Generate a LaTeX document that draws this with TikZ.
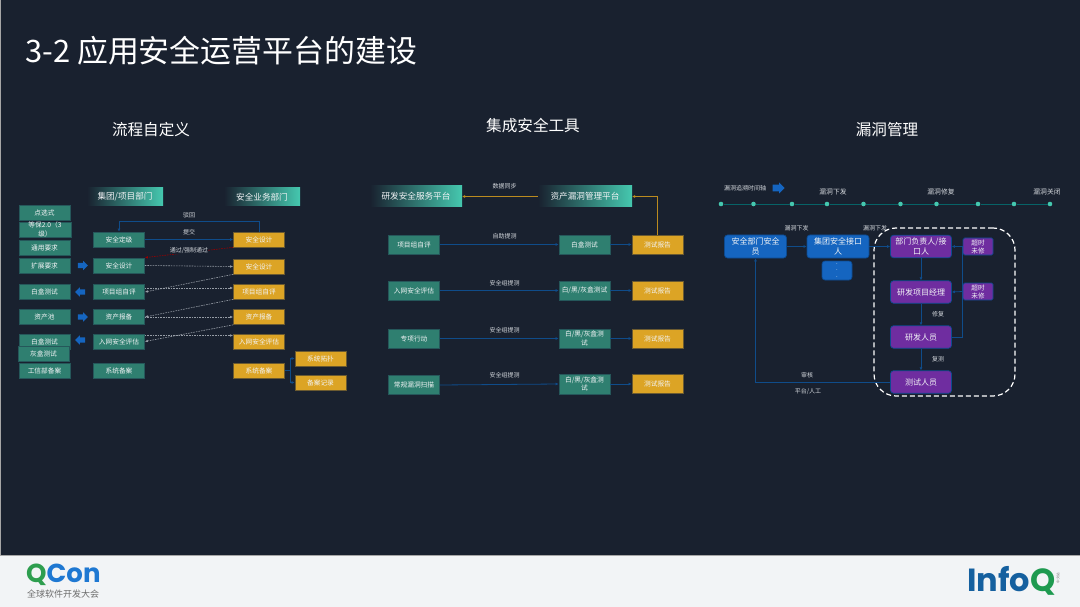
\documentclass[tikz,border=0pt]{standalone}
\usepackage{fontspec}
\setmainfont{Noto Sans CJK SC}
\newfontfamily\logofont{Poppins}
\usetikzlibrary{arrows.meta,shapes.arrows,calc}
\definecolor{bgc}{HTML}{19212F}
\definecolor{footc}{HTML}{F2F4F6}
\definecolor{greenc}{HTML}{2F7F70}
\definecolor{greenb}{HTML}{25575A}
\definecolor{goldc}{HTML}{DCA425}
\definecolor{goldb}{HTML}{6B5A30}
\definecolor{bluec}{HTML}{1565C0}
\definecolor{blueb}{HTML}{0D4A8F}
\definecolor{purc}{HTML}{6F2DA0}
\definecolor{lnblue}{HTML}{0F4C8A}
\definecolor{tealc}{HTML}{45C8AF}
\definecolor{txtc}{HTML}{F2F4F6}
\definecolor{lblc}{HTML}{D4D8DD}
\definecolor{dotc}{HTML}{969DA6}
\tikzset{
 basebox/.style={draw,line width=.7pt,inner sep=0pt,text=txtc,align=center,font=\fontsize{6.7}{8.6}\selectfont},
 gbox/.style={basebox,fill=greenc,draw=greenb,minimum width=51pt,minimum height=15pt},
 gtall/.style={gbox,minimum height=19pt},
 ybox/.style={basebox,fill=goldc,draw=goldb,minimum width=51pt,minimum height=15pt},
 ytall/.style={ybox,minimum height=19pt},
 hdr/.style={inner sep=0pt,left color=bgc,right color=tealc,text=txtc,align=center,font=\fontsize{8.6}{10}\selectfont},
 bbox/.style={basebox,fill=bluec,draw=blueb,rounded corners=3pt,minimum width=62pt,minimum height=23pt,font=\fontsize{8}{10}\selectfont},
 pbox/.style={basebox,fill=purc,draw=blueb,rounded corners=3pt,minimum width=61pt,minimum height=22.5pt,font=\fontsize{8}{10}\selectfont},
 psmall/.style={basebox,fill=purc,draw=blueb,rounded corners=1.5pt,minimum width=30pt,minimum height=17pt,font=\fontsize{6.6}{8}\selectfont},
 lbl/.style={inner sep=0pt,text=lblc,font=\fontsize{6}{7}\selectfont},
 lblb/.style={inner sep=0pt,text=lblc,font=\fontsize{6.8}{8}\selectfont},
 sect/.style={inner sep=0pt,text=white,font=\fontsize{15.6}{18}\selectfont},
 blk/.style={single arrow,fill=bluec,draw=none,inner sep=2.5pt,minimum height=10pt,minimum width=9pt,single arrow head extend=2pt},
 conn/.style={lnblue,line width=.8pt,-{Latex[length=3pt,width=3pt]}},
 plain/.style={lnblue,line width=.8pt},
 gconn/.style={goldc!85!black,line width=.8pt,-{Latex[length=3pt,width=3pt]}},
 dconn/.style={dotc,line width=.6pt,dash pattern=on 1.6pt off 1pt,-{Latex[length=3pt,width=2.6pt]}},
 rconn/.style={red!60!black,line width=.6pt,dash pattern=on 1.6pt off 1pt,-{Latex[length=3pt,width=2.6pt]}},
 tdot/.style={circle,fill=tealc,draw=none,minimum size=4.6pt,inner sep=0pt},
 tline/.style={teal!70!bgc,line width=.8pt},
}
\begin{document}
\begin{tikzpicture}[x=1pt,y=-1pt]
\useasboundingbox (0,0) rectangle (1080,607);
\fill[bgc] (0,0) rectangle (1080,556);
\fill[footc] (0,556) rectangle (1080,607);
\fill[gray!70] (0,555) rectangle (1080,556);
\fill[gray!70] (0,0) rectangle (1,556);
\node[anchor=west,inner sep=0pt,text=white,font=\fontsize{30.9}{34}\selectfont] (title) at (25,51) {3-2 应用安全运营平台的建设};
\node[sect] (s1) at (151,130) {流程自定义};
\node[sect] (s2) at (533,126) {集成安全工具};
\node[sect] (s3) at (887,130) {漏洞管理};
% left panel
\node[hdr,minimum width=76pt,minimum height=18pt] (h1) at (125,197) {集团/项目部门};
\node[hdr,minimum width=76pt,minimum height=18pt] (h2) at (262,197) {安全业务部门};
\node[gbox] (l1) at (44.5,212.5) {点选式};
\node[gbox,minimum width=52pt] (l2) at (45,229.5) {等保2.0（3\\级）};
\node[gbox] (l3) at (44.5,247.5) {通用要求};
\node[gbox] (l4) at (44.5,265.5) {扩展要求};
\node[gbox] (l5) at (44.5,291.5) {白盒测试};
\node[gbox] (l6) at (44.5,317) {资产池};
\node[gbox] (l7) at (44.5,341.5) {白盒测试};
\node[gbox] (l8) at (43.5,354) {灰盒测试};
\node[gbox] (l9) at (44.5,370.5) {工信部备案};
\node[gbox] (m1) at (119,239.5) {安全定级};
\node[gbox] (m2) at (119,265.5) {安全设计};
\node[gbox] (m3) at (119,291.5) {项目组自评};
\node[gbox] (m4) at (119,317) {资产报备};
\node[gbox] (m5) at (119,341.5) {入网安全评估};
\node[gbox] (m6) at (119,370.5) {系统备案};
\node[ybox] (r1) at (259,239.5) {安全设计};
\node[ybox] (r2) at (259,266.5) {安全设计};
\node[ybox] (r3) at (259,291.5) {项目组自评};
\node[ybox] (r4) at (259,317) {资产报备};
\node[ybox] (r5) at (259,341.5) {入网安全评估};
\node[ybox] (r6) at (259,370.5) {系统备案};
\node[ybox] (t1) at (320.5,358.5) {系统拓扑};
\node[ybox] (t2) at (320.5,382.5) {备案记录};
\node[blk] (a1) at (81.5,265.5) {};
\node[blk,shape border rotate=180] (a2) at (81.5,292) {};
\node[blk] (a3) at (81.5,317) {};
\node[blk,shape border rotate=180] (a4) at (81.5,340) {};
\draw[conn] (r1.north) -- ++(0,-10) -| (m1.north);
\draw[conn] (m1.east) -- (r1.west);
\draw[rconn] (r1.south west) -- (m2.north east);
\draw[dconn] (m2.east) -- (r2.west);
\draw[dconn] (r2.south west) -- ([yshift=-.5pt]m3.east);
\draw[dconn] ([yshift=3.5pt]m3.east) -- ([yshift=3.5pt]r3.west);
\draw[dconn] (r3.south west) -- (m4.east);
\draw[dconn] (m4.east) -- (r4.west);
\draw[dconn] (r4.south west) -- (m5.east);
\draw[dconn] ([yshift=6pt]m5.east) -- ([yshift=6pt]r5.west);
\draw[conn] (r6.east) -- ++(6,0) |- (t1.west);
\draw[conn] (r6.east) -- ++(6,0) |- (t2.west);
\node[lbl] (n1) at (189,215) {驳回};
\node[lbl] (n2) at (189,232) {提交};
\node[lbl,fill=bgc] (n3) at (189,250.5) {通过/强制通过};
% middle panel
\node[hdr,minimum width=92pt,minimum height=21pt] (p1) at (416,196.5) {研发安全服务平台};
\node[hdr,minimum width=94pt,minimum height=21pt] (p2) at (585,196.5) {资产漏洞管理平台};
\node[gtall] (a11) at (414,244.5) {项目组自评};
\node[gtall] (a12) at (584.5,244.5) {白盒测试};
\node[ytall] (a13) at (657.5,244.5) {测试报告};
\node[gtall] (a21) at (414,290.5) {入网安全评估};
\node[gtall] (a22) at (584.5,290.5) {白/黑/灰盒测试};
\node[ytall] (a23) at (657.5,290.5) {测试报告};
\node[gtall] (a31) at (414,338.5) {专项行动};
\node[gtall] (a32) at (584.5,338.5) {白/黑/灰盒测\\试};
\node[ytall] (a33) at (657.5,338.5) {测试报告};
\node[gtall] (a41) at (414,385) {常规漏洞扫描};
\node[gtall,minimum height=20pt] (a42) at (584.5,384) {白/黑/灰盒测\\试};
\node[ytall] (a43) at (657.5,384) {测试报告};
\foreach \r in {1,2,3,4}{
 \draw[conn] (a\r1.east) -- (a\r2.west);
 \draw[conn] (a\r2.east) -- (a\r3.west);
}
\draw[gconn] (p2.west) -- (p1.east);
\draw[gconn] (a13.north) |- (p2.east);
\node[lbl] (m0) at (504.5,186) {数据同步};
\node[lbl] (m1l) at (504.5,236) {自助提测};
\node[lbl] (m2l) at (504.5,283) {安全组提测};
\node[lbl] (m3l) at (504.5,330) {安全组提测};
\node[lbl] (m4l) at (504.5,375.5) {安全组提测};
% right panel
\node[lbl] (q0) at (745,188) {漏洞追溯时间轴};
\node[blk,inner sep=3pt,minimum height=12pt,minimum width=11pt] (q1) at (777,188) {};
\node[lblb] (q2) at (833,192) {漏洞下发};
\node[lblb] (q3) at (941,192) {漏洞修复};
\node[lblb] (q4) at (1047,192) {漏洞关闭};
\node[tdot] (d1) at (721,204) {};
\node[tdot] (d2) at (753.5,204) {};
\node[tdot] (d3) at (792,204) {};
\node[tdot] (d4) at (827,204) {};
\node[tdot] (d5) at (863.5,204) {};
\node[tdot] (d6) at (900.5,204) {};
\node[tdot] (d7) at (936.5,204) {};
\node[tdot] (d8) at (978,204) {};
\node[tdot] (d9) at (1014,204) {};
\node[tdot] (d10) at (1050,204) {};
\foreach \u/\v in {1/2,2/3,3/4,4/5,5/6,6/7,7/8,8/9,9/10}{\draw[tline] (d\u) -- (d\v);}
\node[draw=white,line width=1.2pt,dash pattern=on 5pt off 3pt,rounded corners=22pt,minimum width=141pt,minimum height=168pt,inner sep=0pt] (dash) at (944.5,312) {};
\node[bbox] (b1) at (755.5,246.5) {安全部门安全\\员};
\node[bbox] (b2) at (838,246.5) {集团安全接口\\人};
\node[bbox,minimum width=30pt,minimum height=19pt,font=\fontsize{6}{6.5}\selectfont] (b3) at (837,270.5) {.\\.\\.};
\node[pbox] (c1) at (921,246.5) {部门负责人/接\\口人};
\node[pbox] (c2) at (921,292) {研发项目经理};
\node[pbox] (c3) at (921,337) {研发人员};
\node[pbox] (c4) at (921,382) {测试人员};
\node[psmall] (o1) at (978,246.5) {超时\\未修};
\node[psmall] (o2) at (978,291.5) {超时\\未修};
\draw[conn] (b1.east) -- (b2.west);
\draw[conn] (b2.east) -- (c1.west);
\draw[conn] (c1.south) -- (c2.north);
\draw[conn] (c2.south) -- (c3.north);
\draw[conn] (c3.south) -- (c4.north);
\draw[conn] (c4.west) -| (b1.south);
\draw[plain] (c3.east) -- ++(11,0) coordinate (v1) -- (v1 |- c1.east);
\draw[conn] (v1 |- o1.west) -- (c1.east);
\draw[conn] (v1 |- o2.west) -- (c2.east);
\node[lbl] (k1) at (796.5,228) {漏洞下发};
\node[lbl] (k2) at (875,228) {漏洞下发};
\node[lbl] (k3) at (938,314) {修复};
\node[lbl] (k4) at (938,359) {复测};
\node[lbl] (k5) at (807,375) {审核};
\node[lbl] (k6) at (808,392) {平台/人工};
% footer logos
\node[anchor=west,inner sep=0pt,font=\logofont\bfseries\fontsize{26}{28}\selectfont] (qcon) at (26,574.5) {\textcolor[HTML]{2E9E4F}{Q}\textcolor[HTML]{1E78D2}{Con}};
\node[anchor=west,inner sep=0pt,text=gray!85!black,font=\fontsize{9}{10}\selectfont] (qsub) at (27,594.5) {全球软件开发大会};
\node[anchor=west,inner sep=0pt,font=\logofont\bfseries\fontsize{32}{36}\selectfont] (infoq) at (967,581) {\textcolor[HTML]{15609F}{Info}\textcolor[HTML]{1E9A50}{Q}};
\node[rotate=90,inner sep=0pt,text=gray,font=\fontsize{3.5}{4}\selectfont] (zh) at (1058,578) {中文站};
\end{tikzpicture}
\end{document}
